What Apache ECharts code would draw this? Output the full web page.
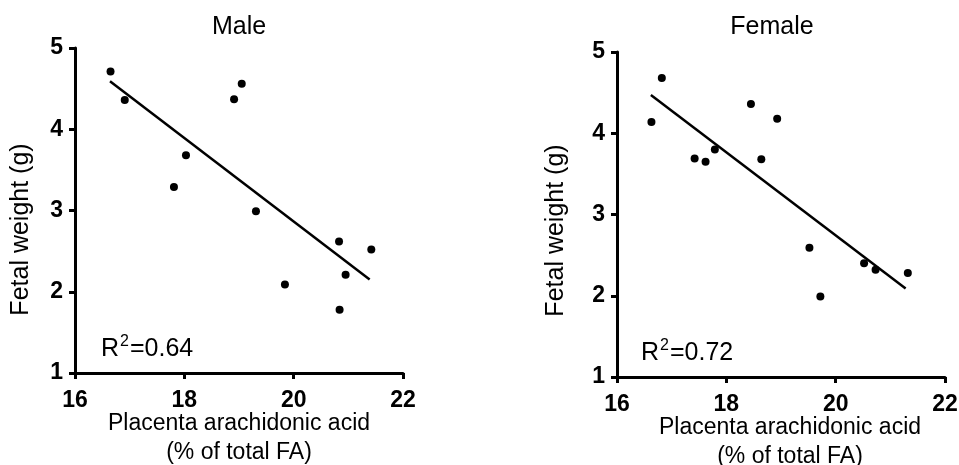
<!DOCTYPE html>
<html>
<head>
<meta charset="utf-8">
<script src="https://cdn.jsdelivr.net/npm/echarts@6/dist/echarts.min.js"></script>
<style>
  html, body { margin: 0; padding: 0; background: #fff; }
  #chart { width: 959px; height: 465px; }
</style>
</head>
<body>
<div id="chart"></div>
<script>
// 数据
var titles = ['Male', 'Female'];
var r2Values = ['0.64', '0.72'];
var xName = 'Placenta arachidonic acid\n(% of total FA)';
var yName = 'Fetal weight (g)';

var maleAA = [16.65, 16.91, 17.81, 18.03, 18.91, 19.05, 19.31, 19.84, 20.83, 20.95, 20.84, 21.42];
var maleWeight = [4.71, 4.36, 3.29, 3.68, 4.37, 4.56, 2.99, 2.09, 2.62, 2.21, 1.78, 2.52];
var maleFit = [[16.64, 4.59], [21.39, 2.15]];

var femaleAA = [16.63, 16.82, 17.42, 17.62, 17.79, 18.45, 18.64, 18.93, 19.52, 19.72, 20.52, 20.73, 21.32];
var femaleWeight = [4.14, 4.68, 3.69, 3.65, 3.80, 4.36, 3.68, 4.18, 2.59, 1.99, 2.40, 2.32, 2.28];
var femaleFit = [[16.62, 4.47], [21.28, 2.09]];

var xTicks = { min: 16, max: 22, interval: 2 };
var yTicks = { min: 1, max: 5, interval: 1 };

function pairs(xs, ys) {
  return xs.map(function (x, i) { return [x, ys[i]]; });
}

var font = "'Liberation Sans', Arial, sans-serif";
var chart = echarts.init(document.getElementById('chart'));

function xAxis(idx, gap, padLeft) {
  return {
    type: 'value', gridIndex: idx,
    min: xTicks.min, max: xTicks.max, interval: xTicks.interval,
    splitLine: { show: false },
    axisLine: { show: true, lineStyle: { color: '#000', width: 3 } },
    axisTick: { show: true, length: 6, lineStyle: { color: '#000', width: 3 } },
    axisLabel: { color: '#000', fontFamily: font, fontWeight: 'bold', fontSize: 23, margin: 16 },
    name: xName, nameLocation: 'middle', nameGap: gap, nameMoveOverlap: false,
    nameTextStyle: { color: '#000', fontFamily: font, fontSize: 23, lineHeight: 29, padding: [0, 0, 0, padLeft] }
  };
}
function yAxis(idx, gap, padEnd) {
  return {
    type: 'value', gridIndex: idx,
    min: yTicks.min, max: yTicks.max, interval: yTicks.interval,
    splitLine: { show: false },
    axisLine: { show: true, lineStyle: { color: '#000', width: 3 } },
    axisTick: { show: true, length: 6, lineStyle: { color: '#000', width: 3 } },
    axisLabel: { color: '#000', fontFamily: font, fontWeight: 'bold', fontSize: 23, margin: 12 },
    name: yName, nameLocation: 'middle', nameGap: gap, nameMoveOverlap: false,
    nameTextStyle: { color: '#000', fontFamily: font, fontSize: 25, padding: [0, padEnd, 0, 0] }
  };
}
function dots(idx, data) {
  return {
    type: 'scatter', xAxisIndex: idx, yAxisIndex: idx, data: data,
    symbolSize: 8, itemStyle: { color: '#000', opacity: 1 }, silent: true
  };
}
function fit(idx, data) {
  return {
    type: 'line', xAxisIndex: idx, yAxisIndex: idx, data: data,
    showSymbol: false, lineStyle: { color: '#000', width: 2.5 }, silent: true
  };
}
function label(text, x, y, align) {
  return {
    type: 'text', x: x, y: y,
    style: { text: text, fill: '#000', font: '25px ' + font, textAlign: align, textVerticalAlign: 'middle' }
  };
}
function r2(val, x, y) {
  return {
    type: 'text', x: x, y: y,
    style: {
      text: '{m|R}{s|2}{m|=' + val + '}',
      textAlign: 'left', textVerticalAlign: 'middle',
      rich: {
        m: { fontFamily: font, fontSize: 25, color: '#000', lineHeight: 28, verticalAlign: 'bottom' },
        s: { fontFamily: font, fontSize: 16, color: '#000', lineHeight: 28, verticalAlign: 'top', padding: [0, 1, 0, 1] }
      }
    }
  };
}

var option = {
  animation: false,
  grid: [
    { left: 75, top: 48, width: 328, height: 325, outerBoundsMode: 'none', containLabel: false },
    { left: 617, top: 52, width: 328, height: 325, outerBoundsMode: 'none', containLabel: false }
  ],
  xAxis: [xAxis(0, 36, 0), xAxis(1, 36, 18)],
  yAxis: [yAxis(0, 41, 38), yAxis(1, 48, 32)],
  series: [
    fit(0, maleFit), dots(0, pairs(maleAA, maleWeight)),
    fit(1, femaleFit), dots(1, pairs(femaleAA, femaleWeight))
  ],
  graphic: [
    label(titles[0], 239, 27, 'center'),
    label(titles[1], 772, 27, 'center'),
    r2(r2Values[0], 101, 348),
    r2(r2Values[1], 641, 352)
  ]
};
chart.setOption(option);
</script>
</body>
</html>
